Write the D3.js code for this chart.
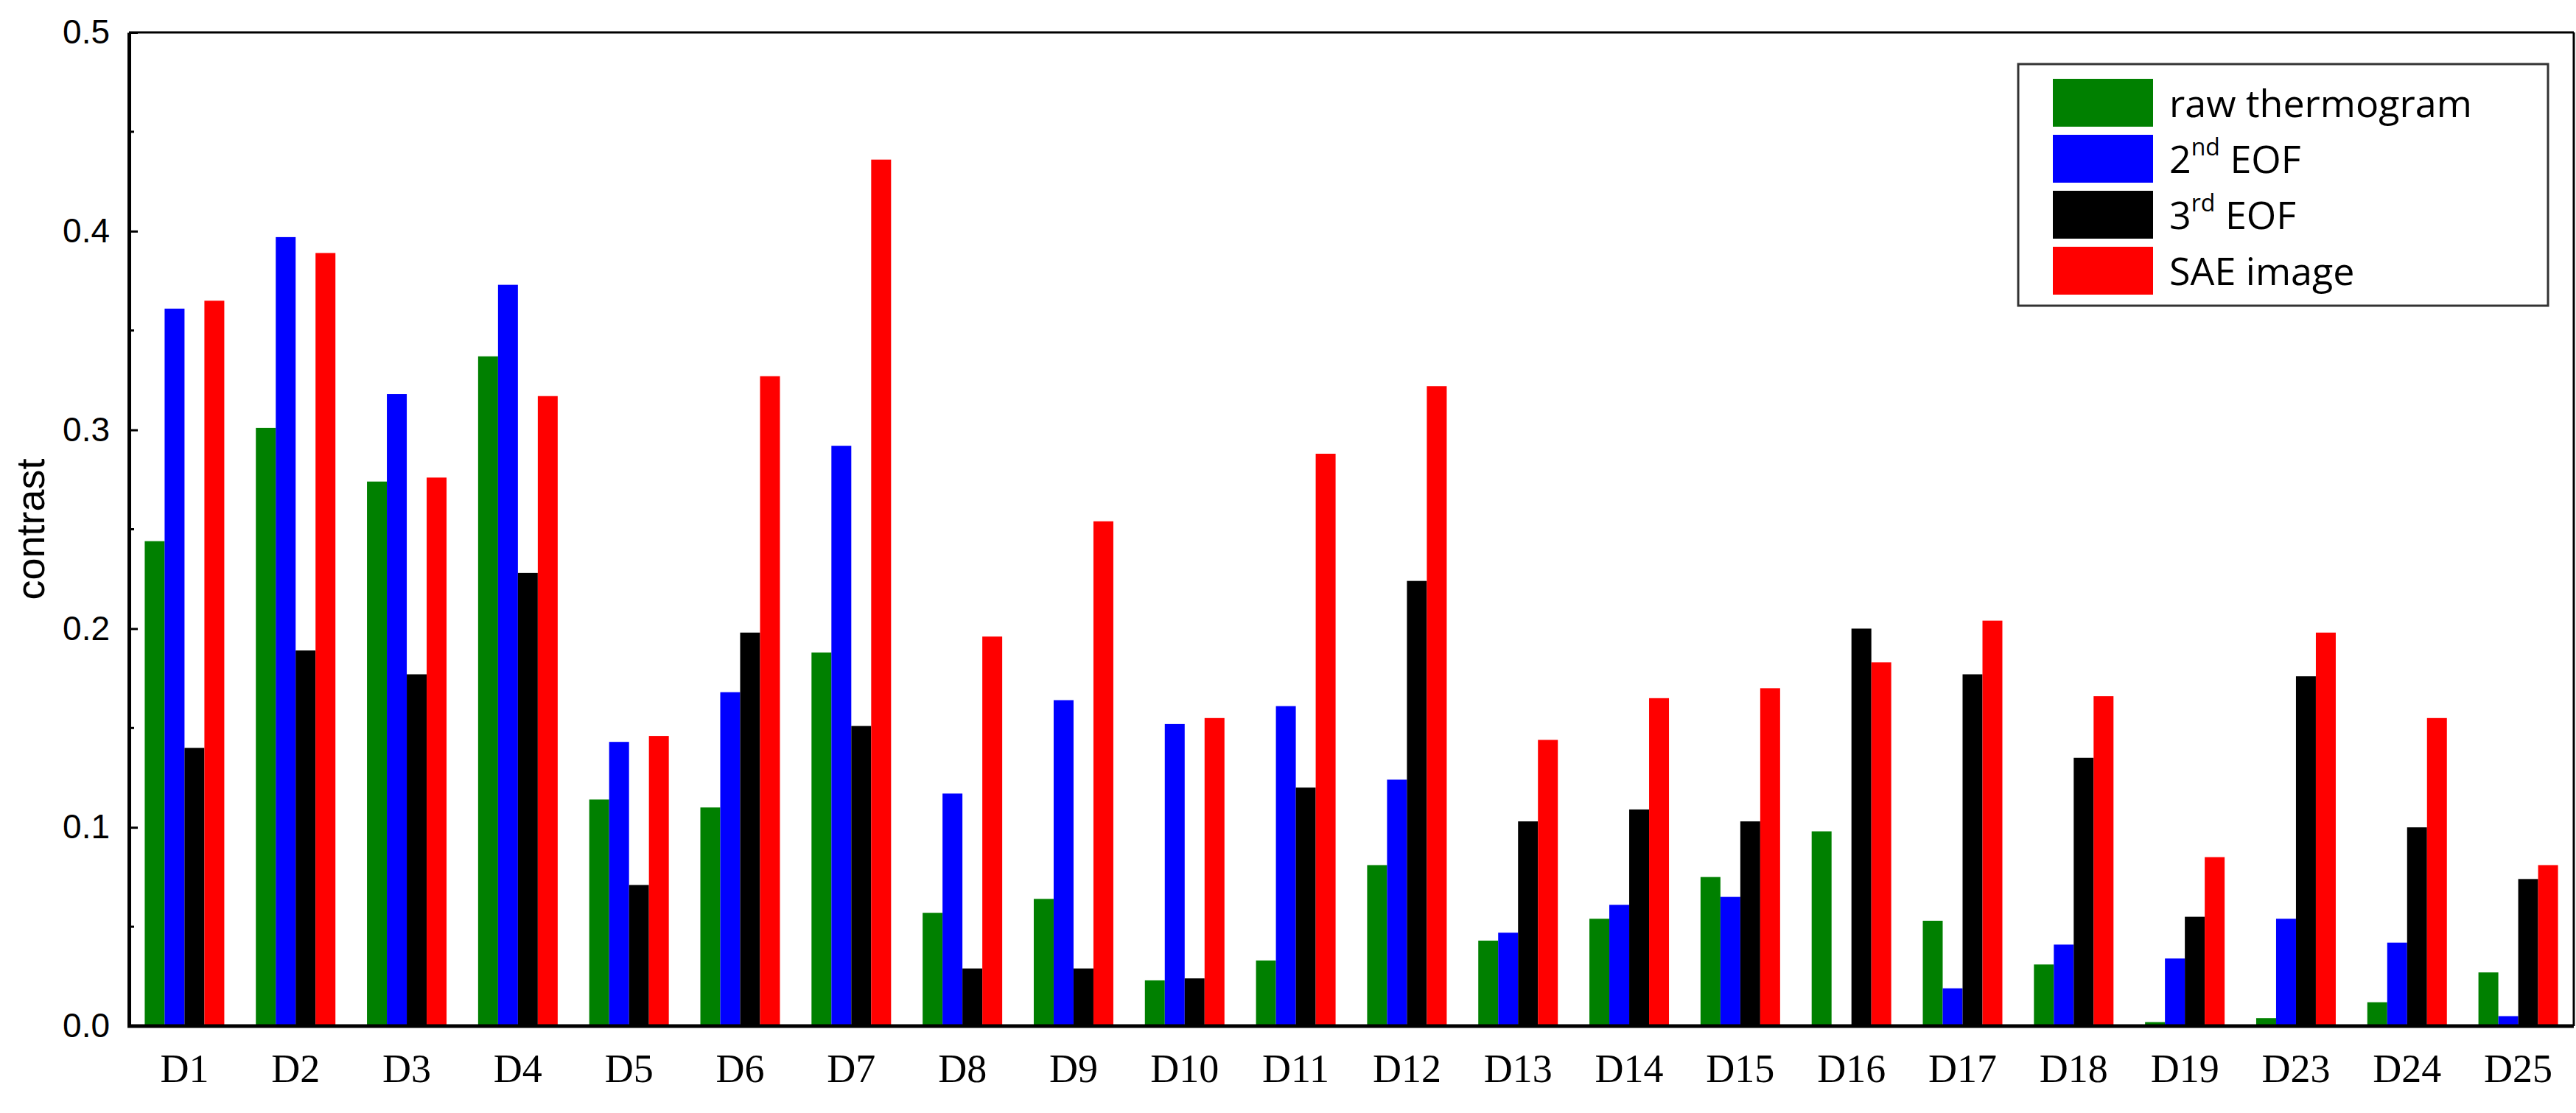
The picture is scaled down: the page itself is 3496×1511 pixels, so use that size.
<!DOCTYPE html>
<html><head><meta charset="utf-8">
<script src="https://cdn.jsdelivr.net/npm/d3@7"></script>
<style>body{margin:0;background:#fff}</style></head>
<body><svg id="c" width="3496" height="1511"></svg>
<script>
const categories=["D1","D2","D3","D4","D5","D6","D7","D8","D9","D10","D11","D12","D13","D14","D15","D16","D17","D18","D19","D23","D24","D25"];
const rawThermogram=[.244,.301,.274,.337,.114,.110,.188,.057,.064,.023,.033,.081,.043,.054,.075,.098,.053,.031,.002,.004,.012,.027];
const eof2=[.361,.397,.318,.373,.143,.168,.292,.117,.164,.152,.161,.124,.047,.061,.065,0,.019,.041,.034,.054,.042,.005];
const eof3=[.140,.189,.177,.228,.071,.198,.151,.029,.029,.024,.120,.224,.103,.109,.103,.200,.177,.135,.055,.176,.100,.074];
const sae=[.365,.389,.276,.317,.146,.327,.436,.196,.254,.155,.288,.322,.144,.165,.170,.183,.204,.166,.085,.198,.155,.081];
const yTicks=[0,0.1,0.2,0.3,0.4,0.5];
const series=[{name:"raw thermogram",vals:rawThermogram,color:"#008000"},{name:"2nd EOF",vals:eof2,color:"#0000ff"},{name:"3rd EOF",vals:eof3,color:"#000000"},{name:"SAE image",vals:sae,color:"#ff0000"}];
const L=175,R=3493,T=44,B=1393;
const svg=d3.select("#c");
const x=d3.scaleBand().domain(categories).range([L,R]).paddingInner(0.284).paddingOuter(0.142);
const xs=d3.scaleBand().domain(d3.range(4)).range([0,x.bandwidth()]);
const y=d3.scaleLinear().domain([0,0.5]).range([B,T]);
series.forEach((s,i)=>{
  svg.append("g").selectAll("rect").data(s.vals).join("rect")
   .attr("x",(d,j)=>x(categories[j])+xs(i)).attr("width",xs.bandwidth())
   .attr("y",d=>y(d)).attr("height",d=>B-y(d)).attr("fill",s.color);
});
// frame
svg.append("line").attr("x1",L).attr("x2",R).attr("y1",T).attr("y2",T).attr("stroke","#000").attr("stroke-width",3);
svg.append("line").attr("x1",R).attr("x2",R).attr("y1",T).attr("y2",B).attr("stroke","#000").attr("stroke-width",3);
// y axis
const ya=d3.axisLeft(y).tickValues(yTicks).tickFormat(d3.format(".1f")).tickSizeInner(-12).tickSizeOuter(0).tickPadding(26);
const gy=svg.append("g").attr("transform",`translate(${L},0)`).call(ya);
gy.select(".domain").attr("stroke-width",5);
gy.selectAll(".tick line").attr("stroke-width",3);
gy.selectAll("text").attr("font-family","Liberation Sans, Arial").attr("font-size",46).attr("fill","#000");
const minor=d3.range(0.05,0.5,0.1);
svg.append("g").selectAll("line").data(minor).join("line").attr("x1",L).attr("x2",L+7).attr("y1",d=>y(d)).attr("y2",d=>y(d)).attr("stroke","#000").attr("stroke-width",3);
// x axis
const xa=d3.axisBottom(x).tickSize(0).tickPadding(38);
const gx=svg.append("g").attr("transform",`translate(0,${B})`).call(xa);
gx.select(".domain").attr("stroke-width",5).attr("d",`M${L-2},0H${R}`);
gx.selectAll("text").attr("font-family","Liberation Serif, Times New Roman").attr("font-size",54).attr("fill","#000");
svg.append("text").attr("transform",`translate(60,${(T+B)/2}) rotate(-90)`).attr("text-anchor","middle")
 .attr("font-family","Liberation Sans, Arial").attr("font-size",54).text("contrast");
// legend
const lg=svg.append("g");
lg.append("rect").attr("x",2739).attr("y",87).attr("width",719).attr("height",328).attr("fill","#fff").attr("stroke","#333").attr("stroke-width",3);
const font="Liberation Sans Narrow, Open Sans, sans-serif";
series.forEach((s,i)=>{
  const yy=107+i*76;
  lg.append("rect").attr("x",2786).attr("y",yy).attr("width",136).attr("height",65).attr("fill",s.color);
  const t=lg.append("text").attr("x",2944).attr("y",yy+52).attr("font-family",font).attr("font-size",52);
  if(i==1||i==2){
    t.append("tspan").text(i==1?"2":"3");
    t.append("tspan").attr("dy",-24).attr("font-size",32).text(i==1?"nd":"rd");
    t.append("tspan").attr("dy",24).text(" EOF");
  } else t.text(s.name);
});
</script></body></html>
